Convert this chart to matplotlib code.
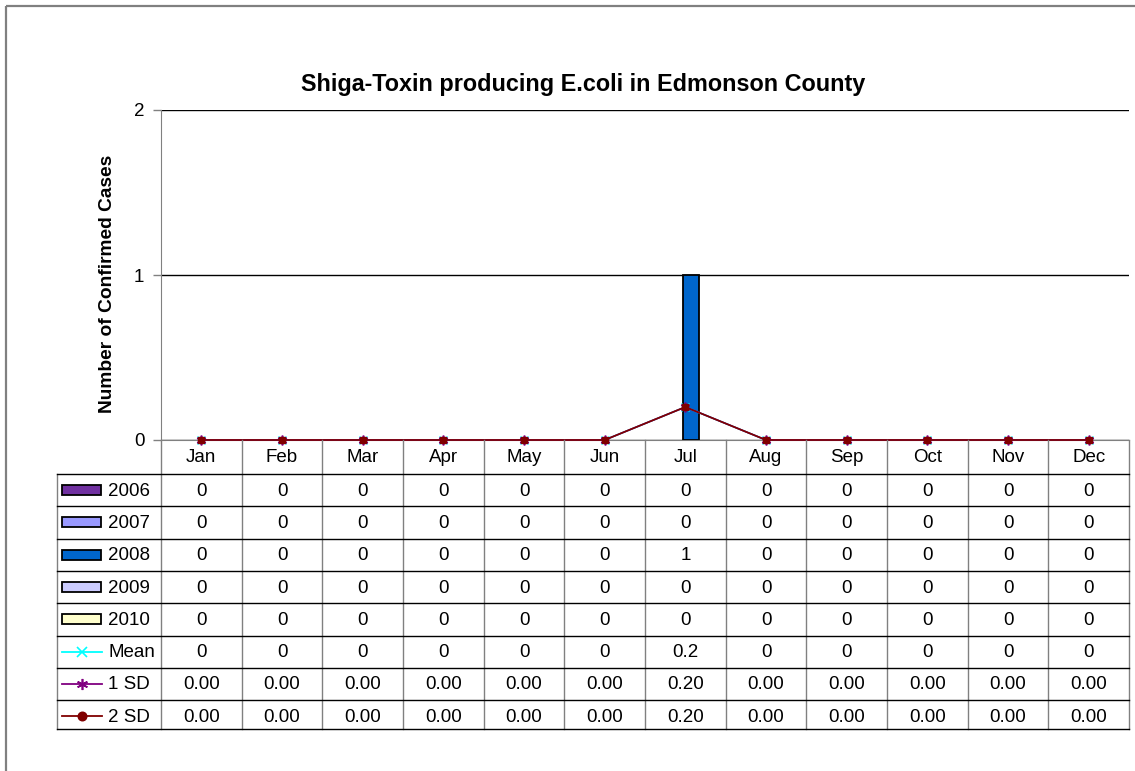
import matplotlib
matplotlib.use("Agg")
import matplotlib.pyplot as plt
from matplotlib.patches import Rectangle

plt.rcParams['font.family'] = ['Liberation Sans', 'DejaVu Sans']

# ---- data ----
months = ["Jan", "Feb", "Mar", "Apr", "May", "Jun", "Jul", "Aug", "Sep", "Oct", "Nov", "Dec"]
years = ["2006", "2007", "2008", "2009", "2010"]
cases_2006 = [0, 0, 0, 0, 0, 0, 0, 0, 0, 0, 0, 0]
cases_2007 = [0, 0, 0, 0, 0, 0, 0, 0, 0, 0, 0, 0]
cases_2008 = [0, 0, 0, 0, 0, 0, 1, 0, 0, 0, 0, 0]
cases_2009 = [0, 0, 0, 0, 0, 0, 0, 0, 0, 0, 0, 0]
cases_2010 = [0, 0, 0, 0, 0, 0, 0, 0, 0, 0, 0, 0]
mean_vals = [0, 0, 0, 0, 0, 0, 0.2, 0, 0, 0, 0, 0]
sd1_vals = [0.00, 0.00, 0.00, 0.00, 0.00, 0.00, 0.20, 0.00, 0.00, 0.00, 0.00, 0.00]
sd2_vals = [0.00, 0.00, 0.00, 0.00, 0.00, 0.00, 0.20, 0.00, 0.00, 0.00, 0.00, 0.00]

bar_series = [cases_2006, cases_2007, cases_2008, cases_2009, cases_2010]
bar_colors = ['#7030A0', '#9999FF', '#0066CC', '#CCCCFF', '#FFFFCC']

# ---- layout (pixels) ----
W, H = 1135, 771
left, right, top, bottom = 161, 1129, 110, 440
tbl_left, hdr_bottom, tbl_bottom = 57, 474, 729
rh = 32.3  # row height; last row is cut short by the chart frame


def fx(px):
    return px / W


def fy(py):
    return 1 - py / H


asterisk = (6, 2, 0)

fig = plt.figure(figsize=(W / 100, H / 100), dpi=100)
ax = fig.add_axes([fx(left), fy(bottom), (right - left) / W, (bottom - top) / H])

x = list(range(len(months)))
bw = 0.19
for i, (vals, col) in enumerate(zip(bar_series, bar_colors)):
    pos = [xi + (i - 2) * bw + 0.07 for xi in x]
    edges = ['black' if v > 0 else 'none' for v in vals]
    ax.bar(pos, vals, width=bw, color=col, edgecolor=edges, linewidth=1.3, zorder=3)

ax.plot(x, mean_vals, color='#00FFFF', marker='x', ms=6, lw=1.2, zorder=4, clip_on=False)
ax.plot(x, sd1_vals, color='#800080', marker=asterisk, ms=7, mew=1.2, lw=1.2, zorder=5, clip_on=False)
ax.plot(x, sd2_vals, color='#800000', marker='s', ms=5, lw=1.2, zorder=6, clip_on=False)

ax.set_xlim(-0.5, len(months) - 0.5)
ax.set_ylim(0, 2)
ax.set_yticks([0, 1, 2])
ax.set_xticks([])
ax.yaxis.grid(True, color='black', lw=1)
ax.set_axisbelow(True)
ax.tick_params(axis='y', length=6, width=1, color='#808080', pad=6, labelsize=13.5)
for s in ['top', 'right']:
    ax.spines[s].set_visible(False)
ax.spines['left'].set_color('#808080')
ax.spines['bottom'].set_color('#808080')

fig.text(fx(583), fy(85), "Shiga-Toxin producing E.coli in Edmonson County",
         ha='center', va='center', fontsize=16.8, fontweight='bold')
fig.text(fx(107), fy(284), "Number of Confirmed Cases", rotation=90,
         ha='center', va='center', fontsize=13.8, fontweight='bold')

# ---- data table drawn in pixel space ----
ov = fig.add_axes([0, 0, 1, 1])
ov.set_xlim(0, W)
ov.set_ylim(H, 0)
ov.axis('off')

ov.add_patch(Rectangle((6, 6), W + 50, H + 50, fill=False, edgecolor='#808080', lw=1.6))

cw = (right - left) / len(months)
row_labels = years + ["Mean", "1 SD", "2 SD"]

for k in range(len(months) + 1):
    ov.plot([left + k * cw] * 2, [bottom, tbl_bottom], color='#808080', lw=1)
ov.plot([tbl_left] * 2, [hdr_bottom, tbl_bottom], color='#808080', lw=1)
for r in range(len(row_labels)):
    ov.plot([tbl_left, right], [hdr_bottom + r * rh] * 2, color='black', lw=1)
ov.plot([tbl_left, right], [tbl_bottom] * 2, color='black', lw=1)

fs = 13.5
for j, m in enumerate(months):
    ov.text(left + (j + 0.5) * cw, (bottom + hdr_bottom) / 2 + 1, m, ha='center', va='center', fontsize=fs)

line_rows = [(mean_vals, '#00FFFF', 'x', 7, "{:g}"),
             (sd1_vals, '#800080', asterisk, 8, "{:.2f}"),
             (sd2_vals, '#800000', 'o', 6, "{:.2f}")]

for r, lab in enumerate(row_labels):
    cy = hdr_bottom + (r + 0.5) * rh
    if r < len(years):
        ov.add_patch(Rectangle((62, cy - 5), 39, 10, facecolor=bar_colors[r], edgecolor='black', lw=1.3))
        vals = bar_series[r]
        fmt = "{:g}"
    else:
        vals, col, mk, ms, fmt = line_rows[r - len(years)]
        ov.plot([62, 102], [cy, cy], color=col, lw=1.3)
        ov.plot([82], [cy], color=col, marker=mk, ms=ms, mew=1.2, lw=0)
    ov.text(108, cy + 1, lab, ha='left', va='center', fontsize=fs)
    for j, v in enumerate(vals):
        ov.text(left + (j + 0.5) * cw, cy + 1, fmt.format(v), ha='center', va='center', fontsize=fs)

fig.savefig("out.png", dpi=100)
